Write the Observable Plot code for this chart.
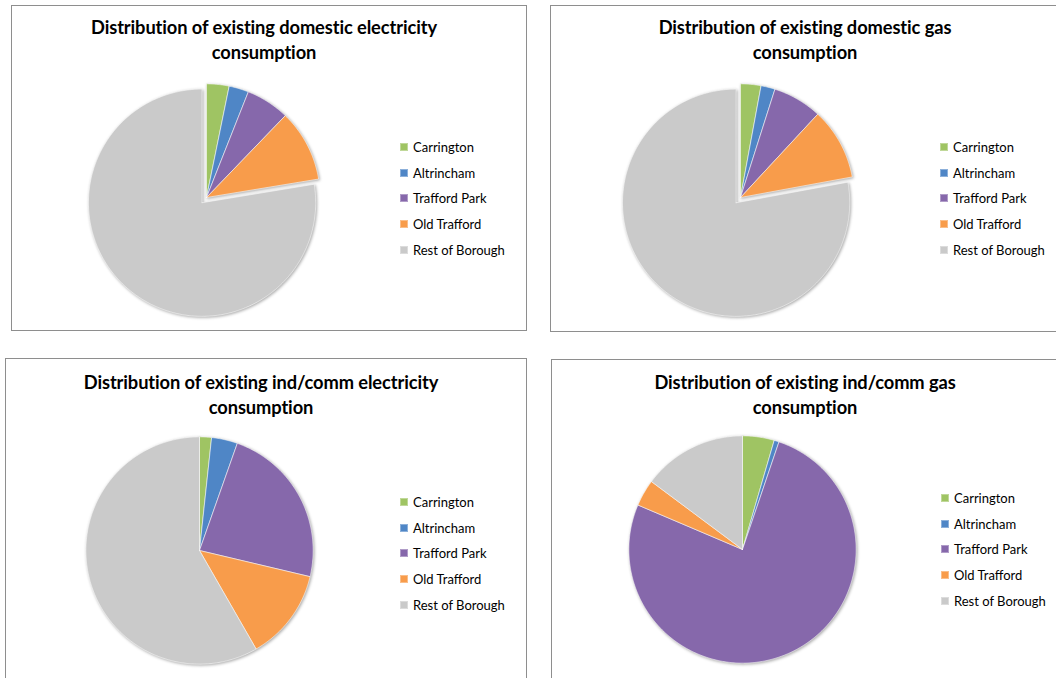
<!DOCTYPE html>
<html><head><meta charset="utf-8">
<script src="https://cdn.jsdelivr.net/npm/d3@7"></script>
<script src="https://cdn.jsdelivr.net/npm/@observablehq/plot@0.6"></script>
<style>
body{margin:0;background:#fff;font-family:Lato,"Open Sans",sans-serif;}
#root{position:relative;width:1056px;height:678px;overflow:hidden;background:#fff;}
.panel{position:absolute;border:1.5px solid #8e8e8e;box-sizing:border-box;background:#fff;}
.title{position:absolute;width:520px;text-align:center;font-weight:bold;font-size:18.3px;line-height:25px;color:#000;letter-spacing:-0.1px;}
.legend{position:absolute;font-size:13px;color:#000;}
.item{display:flex;align-items:center;height:25.8px;white-space:nowrap;}
.sw{width:8px;height:8px;margin-right:5px;box-shadow:inset 0 0 0 1px rgba(255,255,255,0.35);}
.pie{position:absolute;}
</style></head><body><div id="root"></div><script>
// ---- data ----
const categories = ["Carrington", "Altrincham", "Trafford Park", "Old Trafford", "Rest of Borough"];
const colors = ["#9fc463", "#4f86c6", "#8668ab", "#f89c4b", "#cacaca"];
const titles = [
  ["Distribution of existing domestic electricity", "consumption"],
  ["Distribution of existing domestic gas", "consumption"],
  ["Distribution of existing ind/comm electricity", "consumption"],
  ["Distribution of existing ind/comm gas", "consumption"]
];
const domesticElectricity = [3.2, 2.8, 6.2, 10.2, 77.6];
const domesticGas = [2.9, 2.0, 7.0, 10.2, 77.9];
const indCommElectricity = [1.7, 3.7, 23.3, 13.0, 58.3];
const indCommGas = [4.5, 0.7, 76.2, 3.8, 14.8];
const seriesList = [domesticElectricity, domesticGas, indCommElectricity, indCommGas];
const explodedSlice = [4, 4, -1, -1];

// ---- layout (page pixels) ----
const panels = [
  {left: 11, top: 5, width: 516, height: 326},
  {left: 550, top: 5, width: 530, height: 327},
  {left: 5, top: 358, width: 522, height: 400},
  {left: 551, top: 359, width: 530, height: 400}
];
const titlePos = [{cx: 264, top: 15}, {cx: 805, top: 15}, {cx: 261, top: 370}, {cx: 805, top: 370}];
const pieCenter = [{cx: 206, cy: 197}, {cx: 740, cy: 197}, {cx: 199, cy: 550}, {cx: 742, cy: 549}];
const legendPos = [{left: 400, top: 134}, {left: 940, top: 134}, {left: 400, top: 489}, {left: 941, top: 485}];

const root = document.getElementById("root");

function pieData(values, explodeIndex, explode) {
  const arcs = d3.pie().sort(null).value(d => d)(values);
  const pts = [];
  arcs.forEach((a, i) => {
    const name = categories[i];
    let ox = 0, oy = 0;
    if (i === explodeIndex) {
      const m = (a.startAngle + a.endAngle) / 2;
      ox = explode * Math.sin(m); oy = explode * Math.cos(m);
    }
    pts.push({name, x: ox, y: oy});
    const n = Math.max(2, Math.ceil((a.endAngle - a.startAngle) / 0.01));
    for (let k = 0; k <= n; k++) {
      const t = a.startAngle + (a.endAngle - a.startAngle) * k / n;
      pts.push({name, x: ox + Math.sin(t), y: oy + Math.cos(t)});
    }
    pts.push({name, x: ox, y: oy});
  });
  return pts;
}

seriesList.forEach((values, idx) => {
  const p = panels[idx];
  const panel = document.createElement("div");
  panel.className = "panel";
  Object.assign(panel.style, {left: p.left + "px", top: p.top + "px", width: p.width + "px", height: p.height + "px"});
  root.appendChild(panel);

  const t = document.createElement("div");
  t.className = "title";
  t.style.left = (titlePos[idx].cx - 260) + "px";
  t.style.top = titlePos[idx].top + "px";
  t.innerHTML = titles[idx].join("<br>");
  root.appendChild(t);

  const size = 250;
  const chart = Plot.plot({
    width: size, height: size, margin: 0,
    x: {domain: [-1.1, 1.1], axis: null},
    y: {domain: [-1.1, 1.1], axis: null},
    color: {domain: categories, range: colors},
    style: {overflow: "visible", filter: "drop-shadow(1px 1.5px 1.5px rgba(0,0,0,0.35))", background: "transparent"},
    marks: [
      Plot.line(pieData(values, explodedSlice[idx], 0.06), {
        x: "x", y: "y", z: "name", fill: "name",
        stroke: "#ffffff", strokeOpacity: 0.55, strokeWidth: 1, curve: "linear"
      })
    ]
  });
  const wrap = document.createElement("div");
  wrap.className = "pie";
  wrap.style.left = (pieCenter[idx].cx - size / 2) + "px";
  wrap.style.top = (pieCenter[idx].cy - size / 2) + "px";
  wrap.appendChild(chart);
  root.appendChild(wrap);

  const lg = document.createElement("div");
  lg.className = "legend";
  lg.style.left = legendPos[idx].left + "px";
  lg.style.top = legendPos[idx].top + "px";
  categories.forEach((c, i) => {
    const it = document.createElement("div");
    it.className = "item";
    const sw = document.createElement("span");
    sw.className = "sw";
    sw.style.background = colors[i];
    const tx = document.createElement("span");
    tx.textContent = c;
    it.appendChild(sw); it.appendChild(tx);
    lg.appendChild(it);
  });
  root.appendChild(lg);
});
</script></body></html>
